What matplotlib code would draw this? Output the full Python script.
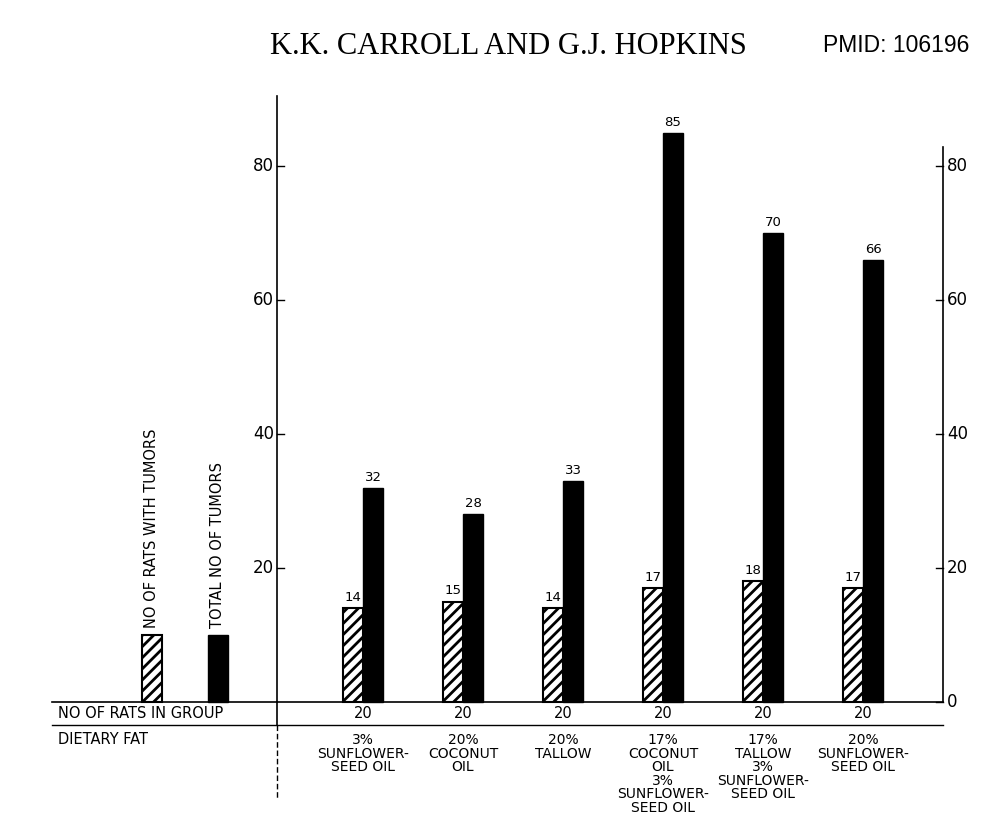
import matplotlib
matplotlib.use("Agg")
import matplotlib.pyplot as plt

# -----------------------------
# Data
# -----------------------------
diet_labels = [
    "3%\nSUNFLOWER-\nSEED OIL",
    "20%\nCOCONUT\nOIL",
    "20%\nTALLOW",
    "17%\nCOCONUT\nOIL\n3%\nSUNFLOWER-\nSEED OIL",
    "17%\nTALLOW\n3%\nSUNFLOWER-\nSEED OIL",
    "20%\nSUNFLOWER-\nSEED OIL",
]
rats_with_tumors = [14, 15, 14, 17, 18, 17]
total_tumors = [32, 28, 33, 85, 70, 66]
rats_in_group = [20, 20, 20, 20, 20, 20]
key_height = 10
y_ticks = [0, 20, 40, 60, 80]

plt.rcParams['font.family'] = ['DejaVu Sans']
plt.rcParams['hatch.linewidth'] = 2.0

# -----------------------------
# Figure: one axes over the whole canvas, data units
# group i sits at x=i, 100 px per unit; 6.7 px per y unit
# -----------------------------
fig = plt.figure(figsize=(10.04, 8.36), dpi=100)
ax = fig.add_axes([0, 0, 1, 1])
ax.set_xlim(-2.63, 7.41)
ax.set_ylim(-20.0, 104.78)
ax.axis('off')

x = list(range(1, len(total_tumors) + 1))
w = 0.2
x_left_axis = 0.14
x_right_axis = 6.80
x_table = -2.11

ax.bar([i - w / 2 for i in x], rats_with_tumors, width=w, color='white',
       edgecolor='black', hatch='///', linewidth=1.5)
ax.bar([i + w / 2 for i in x], total_tumors, width=w, color='black',
       edgecolor='black', linewidth=1)

for i, a, b in zip(x, rats_with_tumors, total_tumors):
    ax.text(i - w / 2, a + 0.6, str(a), ha='center', va='bottom', fontsize=9.5)
    ax.text(i + w / 2, b + 0.6, str(b), ha='center', va='bottom', fontsize=9.5)

# key bars
ax.bar([-1.11], [key_height], width=w, color='white', edgecolor='black',
       hatch='///', linewidth=1.5)
ax.bar([-0.45], [key_height], width=w, color='black', edgecolor='black')
ax.text(-1.11, key_height + 1.0, "NO OF RATS WITH TUMORS", rotation=90,
        ha='center', va='bottom', fontsize=10.5)
ax.text(-0.45, key_height + 1.0, "TOTAL NO OF TUMORS", rotation=90,
        ha='center', va='bottom', fontsize=10.5)

# axes lines
ax.plot([x_left_axis, x_left_axis], [0, 90.5], color='black', lw=1.2)
ax.plot([x_left_axis, x_left_axis], [0, -3.4], color='black', lw=1.2)
ax.plot([x_left_axis, x_left_axis], [-3.4, -14.6], color='black', lw=1.0,
        ls=(0, (4, 2)))
ax.plot([x_right_axis, x_right_axis], [0, 82.8], color='black', lw=1.2)
for t in y_ticks:
    if t > 0:
        ax.plot([x_left_axis, x_left_axis + 0.07], [t, t], color='black', lw=1.0)
        ax.text(x_left_axis - 0.03, t, str(t), ha='right', va='center',
                fontsize=12)
    ax.plot([x_right_axis - 0.07, x_right_axis], [t, t], color='black', lw=1.0)
    ax.text(x_right_axis + 0.04, t, str(t), ha='left', va='center', fontsize=12)

# table rows
ax.plot([x_table, x_right_axis], [0, 0], color='black', lw=1.2)
ax.plot([x_table, x_right_axis], [-3.43, -3.43], color='black', lw=1.0)
ax.text(x_table + 0.06, -1.79, "NO OF RATS IN GROUP", ha='left', va='center',
        fontsize=10.5)
ax.text(x_table + 0.06, -5.67, "DIETARY FAT", ha='left', va='center',
        fontsize=10.5)
for i, n, lab in zip(x, rats_in_group, diet_labels):
    ax.text(i, -1.79, str(n), ha='center', va='center', fontsize=10.5)
    ax.text(i, -4.7, lab, ha='center', va='top', fontsize=10,
            linespacing=0.95)

# header
fig.text(0.506, 0.944, "K.K. CARROLL AND G.J. HOPKINS", ha='center',
         va='center', fontsize=22, family='Liberation Serif')
fig.text(0.893, 0.946, "PMID: 106196", ha='center', va='center',
         fontsize=16.5, family='Liberation Sans')

fig.savefig('out.png', dpi=100)
